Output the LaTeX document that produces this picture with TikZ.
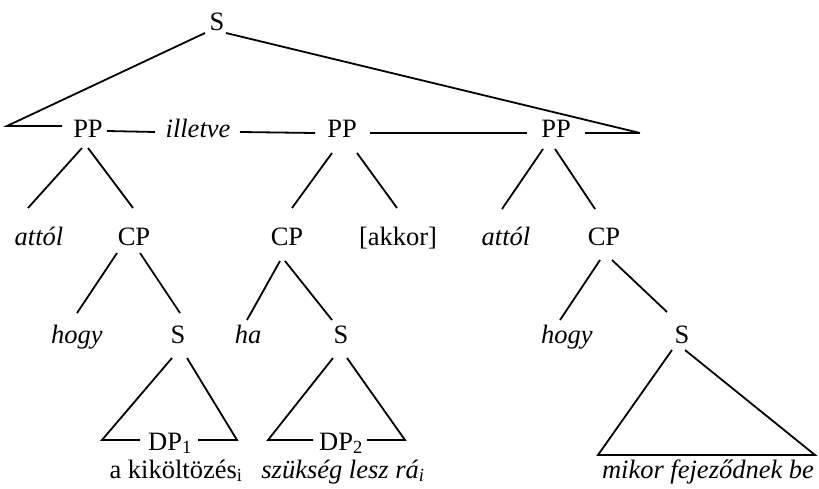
\documentclass[tikz,border=0pt]{standalone}
\usepackage{fontspec}
\setmainfont{Liberation Serif}
\usetikzlibrary{calc}

\tikzset{
  lbl/.style={anchor=base, inner sep=0pt, font=\fontsize{26.5}{30}\selectfont},
  branch/.style={line width=1.8pt}
}

\begin{document}
\begin{tikzpicture}[x=1pt, y=-1pt]
	\useasboundingbox (0,0) rectangle (819,489);

	% labels, row by row
	\node[lbl] (root) at (217,31) {S};

	\node[lbl] (pp1) at (88,138) {PP};
	\node[lbl] (illetve) at (198,138) {\textit{illetve}};
	\node[lbl] (pp2) at (342,138) {PP};
	\node[lbl] (pp3) at (556,138) {PP};

	\node[lbl] (attol1) at (39,245) {\textit{attól}};
	\node[lbl] (cp1) at (134,245) {CP};
	\node[lbl] (cp2) at (287,245) {CP};
	\node[lbl] (akkor) at (398,245) {[akkor]};
	\node[lbl] (attol2) at (506,245) {\textit{attól}};
	\node[lbl] (cp3) at (604,245) {CP};

	\node[lbl] (hogy1) at (77,343) {\textit{hogy}};
	\node[lbl] (s1) at (178,343) {S};
	\node[lbl] (ha) at (248,343) {\textit{ha}};
	\node[lbl] (s2) at (341,343) {S};
	\node[lbl] (hogy2) at (567,343) {\textit{hogy}};
	\node[lbl] (s3) at (682,343) {S};

	\node[lbl] (dp1) at (170,450) {DP\textsubscript{1}};
	\node[lbl] (dp2) at (341,450) {DP\textsubscript{2}};

	\node[lbl] (kikolt) at (176,478) {a kiköltözés\textsubscript{i}};
	\node[lbl] (szukseg) at (343,478) {\textit{szükség lesz rá\textsubscript{i}}};
	\node[lbl] (mikor) at (708,478) {\textit{mikor fejeződnek be}};

	% corners of the open ends
	\coordinate (lc) at (7,126);
	\coordinate (rc) at (640,133);
	\coordinate (t1l) at (102,440);
	\coordinate (t1r) at (237,440);
	\coordinate (t2l) at (268,440);
	\coordinate (t2r) at (405,440);
	\coordinate (t3l) at (598,455);
	\coordinate (t3r) at (815,455);

	% top S and the coordinated PPs
	\draw[branch] ($(root.base)+(-12,2)$) -- (lc) -- ($(pp1.base)+(-26,-12)$);
	\draw[branch] ($(root.base)+(9,2)$) -- (rc);
	\draw[branch] ($(pp1.base)+(19,-7)$) -- ($(illetve.base)+(-43,-6)$);
	\draw[branch] ($(illetve.base)+(42,-6)$) -- ($(pp2.base)+(-27,-5)$);
	\draw[branch] ($(pp2.base)+(28,-5)$) -- ($(pp3.base)+(-29,-5)$);
	\draw[branch] ($(pp3.base)+(29,-5)$) -- (rc);

	% PP daughters
	\draw[branch] ($(pp1.base)+(-6,10)$) -- ($(attol1.base)+(-11,-37)$);
	\draw[branch] ($(pp1.base)+(0,10)$) -- ($(cp1.base)+(-1,-37)$);
	\draw[branch] ($(pp2.base)+(-10,15)$) -- ($(cp2.base)+(5,-37)$);
	\draw[branch] ($(pp2.base)+(15,15)$) -- ($(akkor.base)+(-1,-37)$);
	\draw[branch] ($(pp3.base)+(-13,11)$) -- ($(attol2.base)+(-4,-36)$);
	\draw[branch] ($(pp3.base)+(-1,11)$) -- ($(cp3.base)+(-9,-36)$);

	% CP daughters
	\draw[branch] ($(cp1.base)+(-17,8)$) -- ($(hogy1.base)+(0,-30)$);
	\draw[branch] ($(cp1.base)+(6,8)$) -- ($(s1.base)+(2,-30)$);
	\draw[branch] ($(cp2.base)+(-7,16)$) -- ($(ha.base)+(-1,-23)$);
	\draw[branch] ($(cp2.base)+(-2,16)$) -- ($(s2.base)+(-9,-23)$);
	\draw[branch] ($(cp3.base)+(-4,15)$) -- ($(hogy2.base)+(-7,-23)$);
	\draw[branch] ($(cp3.base)+(8,15)$) -- ($(s3.base)+(-15,-31)$);

	% triangles
	\draw[branch] ($(s1.base)+(-6,15)$) -- (t1l) -- ($(dp1.base)+(-30,-10)$);
	\draw[branch] ($(dp1.base)+(28,-10)$) -- (t1r) -- ($(s1.base)+(9,15)$);
	\draw[branch] ($(s2.base)+(-8,15)$) -- (t2l) -- ($(dp2.base)+(-28,-10)$);
	\draw[branch] ($(dp2.base)+(26,-10)$) -- (t2r) -- ($(s2.base)+(6,15)$);
	\draw[branch] ($(s3.base)+(-10,7)$) -- (t3l) -- (t3r) -- ($(s3.base)+(3,7)$);
\end{tikzpicture}
\end{document}
